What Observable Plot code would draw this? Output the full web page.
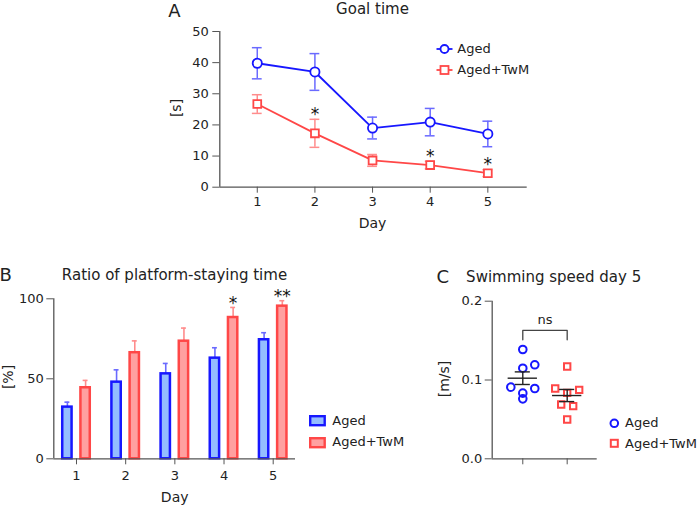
<!DOCTYPE html>
<html><head><meta charset="utf-8">
<script src="https://cdn.jsdelivr.net/npm/d3@7"></script>
<script src="https://cdn.jsdelivr.net/npm/@observablehq/plot@0.6"></script>
<style>
body{margin:0;background:#fff;font-family:"DejaVu Sans",Verdana,sans-serif;}
#wrap{position:relative;width:700px;height:505px;overflow:hidden;color:#222;background:#fff}
.abs{position:absolute;white-space:nowrap;line-height:1.2}
.plot{position:absolute}
</style></head><body><div id="wrap"></div>
<script>
// ---------- data ----------
const days = [1, 2, 3, 4, 5];
const groups = ["Aged", "Aged+TwM"];

// Panel A: Goal time [s], mean ± SEM
const goalAgedMean = [39.8, 37.0, 19.0, 20.9, 17.1];
const goalAgedSem  = [5.0, 5.9, 3.5, 4.4, 4.1];
const goalTwmMean  = [26.7, 17.3, 8.6, 7.1, 4.5];
const goalTwmSem   = [3.0, 4.5, 1.9, 1.2, 1.1];
const goalSig      = ["", "*", "", "*", "*"];

// Panel B: Ratio of platform-staying time [%], mean + SEM
const ratioAgedMean = [32.3, 47.9, 53.1, 62.9, 74.4];
const ratioAgedSem  = [3.1, 7.7, 6.5, 6.5, 4.4];
const ratioTwmMean  = [44.4, 66.3, 73.5, 88.3, 95.4];
const ratioTwmSem   = [4.6, 7.4, 8.2, 6.3, 3.4];
const ratioSig      = ["", "", "", "*", "**"];

// Panel C: Swimming speed day 5 [m/s], individual animals
const speedAged     = [0.1387, 0.1150, 0.1193, 0.0909, 0.0892, 0.0833, 0.0761];
const speedAgedSlot = [0, 0, 2, -2, 2, 0, 0];
const speedTwm      = [0.1171, 0.0892, 0.0875, 0.0837, 0.0689, 0.0668, 0.0499];
const speedTwmSlot  = [0, -2, 2, 0, -1, 1, 0];
const speedMean     = [0.1023, 0.0803];
const speedSem      = [0.0080, 0.0077];
const nsBracket     = [0.151, 0.163];

// axis ticks
const goalTicks = [0, 10, 20, 30, 40, 50];
const ratioTicks = [0, 50, 100];
const speedTicks = [0, 0.1, 0.2];

// ---------- styles ----------
const blue = "#1717ff", red = "#ff4747";
const errBlue = "#6a6aff", errRed = "#ff8c8c";
const fillBlue = "#94bdff", fillRed = "#ffa0a0";
const axisStroke = "#555", axisText = "#222";
const FONT = "DejaVu Sans";

const wrap = document.getElementById("wrap");
function place(svg, left, top) {
  const d = document.createElement("div");
  d.className = "plot"; d.style.left = left + "px"; d.style.top = top + "px";
  d.appendChild(svg); wrap.appendChild(d);
}
function label(text, x, y, size, opts = {}) {
  const d = document.createElement("div");
  d.className = "abs";
  d.textContent = text;
  d.style.fontSize = size + "px";
  d.style.left = x + "px"; d.style.top = y + "px";
  const ax = opts.anchor === "start" ? "0" : "-50%";
  d.style.transform = `translate(${ax},-50%)` + (opts.rotate ? ` rotate(${opts.rotate}deg)` : "");
  if (opts.color) d.style.color = opts.color;
  wrap.appendChild(d);
}
function svgIcon(x, y, w, h, inner) {
  const d = document.createElement("div");
  d.className = "abs";
  d.style.left = x + "px"; d.style.top = y + "px";
  d.innerHTML = `<svg width="${w}" height="${h}" style="display:block;overflow:visible">${inner}</svg>`;
  wrap.appendChild(d);
}
const baseStyle = {fontFamily: FONT, fontSize: "13px", background: "transparent", overflow: "visible", color: axisText};

// ---------- Panel A ----------
const goal = days.map((d, i) => ({day: d, aged: goalAgedMean[i], agedSem: goalAgedSem[i],
  twm: goalTwmMean[i], twmSem: goalTwmSem[i], sig: goalSig[i]}));
const capA = 0.085;
const xA = [0.35, 5.683];
const plotA = Plot.plot({
  width: 380, height: 235, marginLeft: 59.3, marginRight: 13.3, marginTop: 31, marginBottom: 48.3,
  x: {type: "linear", domain: xA},
  y: {domain: [0, 50]},
  style: baseStyle,
  marks: [
    Plot.ruleX([xA[0]], {stroke: axisStroke, strokeWidth: 1.3}),
    Plot.ruleY([0], {stroke: axisStroke, strokeWidth: 1.3}),
    Plot.axisY({ticks: goalTicks, tickSize: 7, tickPadding: 4, stroke: axisStroke, fill: axisText, label: null, fontSize: 13}),
    Plot.axisX({ticks: days, tickSize: 6, tickPadding: 4, stroke: axisStroke, fill: axisText, label: null, fontSize: 13, tickFormat: d => String(d)}),
    // error bars
    Plot.ruleX(goal, {x: "day", y1: d => d.aged - d.agedSem, y2: d => d.aged + d.agedSem, stroke: errBlue, strokeWidth: 1.5}),
    Plot.ruleY(goal, {y: d => d.aged + d.agedSem, x1: d => d.day - capA, x2: d => d.day + capA, stroke: errBlue, strokeWidth: 1.5}),
    Plot.ruleY(goal, {y: d => d.aged - d.agedSem, x1: d => d.day - capA, x2: d => d.day + capA, stroke: errBlue, strokeWidth: 1.5}),
    Plot.ruleX(goal, {x: "day", y1: d => d.twm - d.twmSem, y2: d => d.twm + d.twmSem, stroke: errRed, strokeWidth: 1.5}),
    Plot.ruleY(goal, {y: d => d.twm + d.twmSem, x1: d => d.day - capA, x2: d => d.day + capA, stroke: errRed, strokeWidth: 1.5}),
    Plot.ruleY(goal, {y: d => d.twm - d.twmSem, x1: d => d.day - capA, x2: d => d.day + capA, stroke: errRed, strokeWidth: 1.5}),
    Plot.line(goal, {x: "day", y: "aged", stroke: blue, strokeWidth: 1.8}),
    Plot.line(goal, {x: "day", y: "twm", stroke: red, strokeWidth: 1.8}),
    Plot.dot(goal, {x: "day", y: "aged", r: 4.6, stroke: blue, fill: "white", strokeWidth: 1.8}),
    Plot.dot(goal, {x: "day", y: "twm", symbol: "square", r: 4.4, stroke: red, fill: "white", strokeWidth: 1.8}),
    Plot.text(goal.filter(d => d.sig), {x: "day", y: d => d.twm + d.twmSem, text: "sig", dy: -5, fontSize: 17, fill: "#111"})
  ]
});
place(plotA, 160, 0);

// ---------- Panel B ----------
const ratio = days.map((d, i) => ({day: d, aged: ratioAgedMean[i], agedSem: ratioAgedSem[i],
  twm: ratioTwmMean[i], twmSem: ratioTwmSem[i], sig: ratioSig[i]}));
const xB = [0.5384, 5.4535];
const offB = 0.185, halfW = 0.095, capB = 0.05;
const plotB = Plot.plot({
  width: 310, height: 265, marginLeft: 53.3, marginRight: 15, marginTop: 58.3, marginBottom: 46.7,
  x: {type: "linear", domain: xB},
  y: {domain: [0, 100]},
  style: baseStyle,
  marks: [
    // error bars (upper only)
    Plot.ruleX(ratio, {x: d => d.day - offB, y1: "aged", y2: d => d.aged + d.agedSem, stroke: errBlue, strokeWidth: 1.6}),
    Plot.ruleY(ratio, {y: d => d.aged + d.agedSem, x1: d => d.day - offB - capB, x2: d => d.day - offB + capB, stroke: errBlue, strokeWidth: 1.6}),
    Plot.ruleX(ratio, {x: d => d.day + offB, y1: "twm", y2: d => d.twm + d.twmSem, stroke: errRed, strokeWidth: 1.6}),
    Plot.ruleY(ratio, {y: d => d.twm + d.twmSem, x1: d => d.day + offB - capB, x2: d => d.day + offB + capB, stroke: errRed, strokeWidth: 1.6}),
    Plot.rect(ratio, {x1: d => d.day - offB - halfW, x2: d => d.day - offB + halfW, y1: () => 0, y2: "aged", fill: fillBlue, stroke: blue, strokeWidth: 2.5}),
    Plot.rect(ratio, {x1: d => d.day + offB - halfW, x2: d => d.day + offB + halfW, y1: () => 0, y2: "twm", fill: fillRed, stroke: red, strokeWidth: 2.5}),
    Plot.ruleX([xB[0]], {stroke: axisStroke, strokeWidth: 1.3}),
    Plot.ruleY([0], {stroke: axisStroke, strokeWidth: 1.3}),
    Plot.axisY({ticks: ratioTicks, tickSize: 7, tickPadding: 3, stroke: axisStroke, fill: axisText, label: null, fontSize: 13}),
    Plot.axisX({ticks: days, tickSize: 6, tickPadding: 6, stroke: axisStroke, fill: axisText, label: null, fontSize: 13, tickFormat: d => String(d)}),
    Plot.text(ratio.filter(d => d.sig), {x: d => d.day + offB, y: d => d.twm + d.twmSem, text: "sig", dy: -4, fontSize: 17, fill: "#111"})
  ]
});
place(plotB, 0, 240);

// ---------- Panel C ----------
const speed = [
  ...speedAged.map((v, i) => ({g: 0, v, slot: speedAgedSlot[i]})),
  ...speedTwm.map((v, i) => ({g: 1, v, slot: speedTwmSlot[i]}))
];
const summary = groups.map((name, g) => ({g, name, mean: speedMean[g], sem: speedSem[g]}));
const xC = [-0.689, 1.676];
const slotW = 0.135, meanHalf = 0.33, semCap = 0.17;
const bracket = [
  {x: 0, y: nsBracket[0]}, {x: 0, y: nsBracket[1]}, {x: 1, y: nsBracket[1]}, {x: 1, y: nsBracket[0]}
];
const plotC = Plot.plot({
  width: 220, height: 265, marginLeft: 91.7, marginRight: 23.3, marginTop: 60.7, marginBottom: 46.7,
  x: {type: "linear", domain: xC},
  y: {domain: [0, 0.2]},
  style: baseStyle,
  marks: [
    Plot.ruleX([xC[0]], {stroke: axisStroke, strokeWidth: 1.3}),
    Plot.ruleY([0], {stroke: axisStroke, strokeWidth: 1.3}),
    Plot.axisY({ticks: speedTicks, tickSize: 7, tickPadding: 3, stroke: axisStroke, fill: axisText, label: null, fontSize: 13, tickFormat: d3.format(".1f")}),
    Plot.axisX({ticks: [0, 1], tickSize: 6, stroke: axisStroke, label: null, tickFormat: () => ""}),
    Plot.dot(speed.filter(d => d.g === 0), {x: d => d.g + d.slot * slotW, y: "v", r: 3.8, stroke: blue, fill: "none", strokeWidth: 2}),
    Plot.dot(speed.filter(d => d.g === 1), {x: d => d.g + d.slot * slotW, y: "v", symbol: "square", r: 3.6, stroke: red, fill: "none", strokeWidth: 2}),
    Plot.ruleY(summary, {y: "mean", x1: d => d.g - meanHalf, x2: d => d.g + meanHalf, stroke: "#222", strokeWidth: 1.4}),
    Plot.ruleX(summary, {x: "g", y1: d => d.mean - d.sem, y2: d => d.mean + d.sem, stroke: "#222", strokeWidth: 1.4}),
    Plot.ruleY(summary, {y: d => d.mean + d.sem, x1: d => d.g - semCap, x2: d => d.g + semCap, stroke: "#222", strokeWidth: 1.4}),
    Plot.ruleY(summary, {y: d => d.mean - d.sem, x1: d => d.g - semCap, x2: d => d.g + semCap, stroke: "#222", strokeWidth: 1.4}),
    Plot.line(bracket, {x: "x", y: "y", stroke: "#444", strokeWidth: 1.3}),
    Plot.text(["ns"], {x: () => 0.5, y: () => nsBracket[1], text: d => d, dy: -11, fontSize: 13, fill: "#222"})
  ]
});
place(plotC, 400, 240);

// ---------- titles, labels, legends ----------
label("A", 174.5, 10.8, 18);
label("Goal time", 372.5, 9, 15);
label("[s]", 176, 108.3, 14, {rotate: -90});
label("Day", 372.5, 223, 14);

label("B", 5.8, 275, 18);
label("Ratio of platform-staying time", 174.5, 275, 15);
label("[%]", 7.5, 376.7, 14, {rotate: -90});
label("Day", 174.7, 496.5, 14);

label("C", 442.8, 276.7, 18);
label("Swimming speed day 5", 553.7, 276.5, 15);
label("[m/s]", 444, 379, 14, {rotate: -90});

// legend A
svgIcon(435.5, 43, 17, 12, `<line x1="0.5" x2="16.5" y1="6" y2="6" stroke="${blue}" stroke-width="1.8"/><circle cx="8.5" cy="6" r="4" fill="white" stroke="${blue}" stroke-width="1.8"/>`);
label(groups[0], 457.3, 49, 13, {anchor: "start"});
svgIcon(435.5, 63.5, 17, 12, `<line x1="0.5" x2="16.5" y1="6" y2="6" stroke="${red}" stroke-width="1.8"/><rect x="4.5" y="2" width="8" height="8" fill="white" stroke="${red}" stroke-width="1.8"/>`);
label(groups[1], 457.3, 69.5, 13, {anchor: "start"});

// legend B
svgIcon(309, 415, 17, 12, `<rect x="1.2" y="1.2" width="14.5" height="9" fill="${fillBlue}" stroke="${blue}" stroke-width="2.4"/>`);
label(groups[0], 332.3, 420.5, 13, {anchor: "start"});
svgIcon(309, 436.5, 17, 12, `<rect x="1.2" y="1.2" width="14.5" height="9" fill="${fillRed}" stroke="${red}" stroke-width="2.4"/>`);
label(groups[1], 332.3, 442, 13, {anchor: "start"});

// legend C
svgIcon(609, 418, 11, 11, `<circle cx="5.3" cy="5.3" r="3.8" fill="none" stroke="${blue}" stroke-width="2"/>`);
label(groups[0], 625, 423.3, 13, {anchor: "start"});
svgIcon(609, 438, 11, 11, `<rect x="1.8" y="1.8" width="7" height="7" fill="none" stroke="${red}" stroke-width="2"/>`);
label(groups[1], 625, 443.5, 13, {anchor: "start"});
</script></body></html>
